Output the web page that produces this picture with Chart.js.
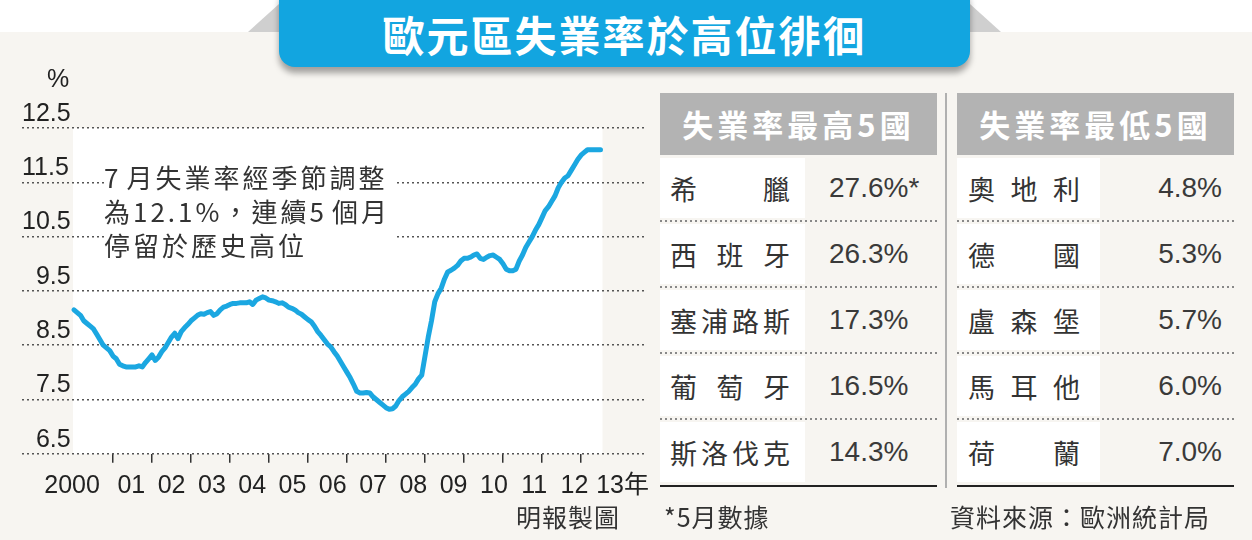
<!DOCTYPE html>
<html lang="zh-Hant">
<head>
<meta charset="UTF-8">
<title>歐元區失業率於高位徘徊</title>
<script src="https://cdn.jsdelivr.net/npm/chart.js"></script>
<style>
  html, body { margin: 0; padding: 0; }
  body {
    width: 1252px; height: 540px; position: relative; overflow: hidden;
    background: #f7f5f1; color: #333;
    font-family: "Noto Sans CJK TC", sans-serif;
  }
  #topStrip { position: absolute; left: 0; top: 0; width: 1252px; height: 32px; background: #fff; }
  .fold { position: absolute; top: 4px; width: 0; height: 0; border-bottom: 28px solid #cfcfcf; }
  #foldL { left: 248px; border-left: 31px solid transparent; }
  #foldR { left: 970px; border-right: 31px solid transparent; }
  #banner {
    position: absolute; left: 279px; top: -16px; width: 691px; height: 67px; padding-top: 16px;
    background: #12a5e0; border-radius: 16px; box-shadow: 0 6px 6px rgba(0,0,0,0.35);
    color: #fff; font-weight: 700; font-size: 42px; letter-spacing: 2px;
    line-height: 67px; text-align: center;
  }
  #chartBox { position: absolute; left: 0; top: 0; width: 660px; height: 540px; }
  #pct { position: absolute; left: 47px; top: 64px; font: 25px "Liberation Sans", sans-serif; color: #222; }
  #note {
    position: absolute; left: 104px; top: 160px; width: 290px; height: 102px;
    background: #fff; font-size: 26px; line-height: 34px; letter-spacing: 3px; color: #333;
  }
  #note .gap { margin-left: 5px; }
  .tbl { position: absolute; top: 93px; width: 277px; }
  #tblHigh { left: 660px; }
  #tblLow { left: 957px; }
  .hd {
    height: 62px; background: #b3b3b3; color: #fff; font-weight: 700;
    font-size: 31px; letter-spacing: 4px; line-height: 62px; text-align: center;
  }
  .row { position: relative; height: 66px; }
  .row .name {
    position: absolute; left: 0; top: 3px; height: 60px; width: 145px; box-sizing: border-box;
    background: #fff; display: flex; justify-content: space-between; align-items: center;
    padding: 0 15px 0 10px; font-size: 27px; color: #333;
  }
  #tblLow .row .name { width: 143px; padding: 0 20px 0 11px; }
  .row .val {
    position: absolute; top: 0;
    font: 28px "Liberation Sans", sans-serif; line-height: 66px; color: #3a3a3a;
  }
  #tblHigh .val { left: 169px; }
  #tblLow .val { right: 12px; }
  .dots {
    position: absolute; left: 0; bottom: -1px; width: 100%; height: 2px;
    background: repeating-linear-gradient(to right, #888 0 2px, transparent 2px 5px);
  }
  .tbl .rule { height: 2px; background: #222; }
  #vsep { position: absolute; left: 945px; top: 93px; width: 2px; height: 395px; background: #b0b0b0; }
  .foot { position: absolute; top: 500px; font-size: 25px; line-height: 32px; letter-spacing: 1px; color: #333; }
</style>
</head>
<body>
  <div id="topStrip"></div>
  <div class="fold" id="foldL"></div>
  <div class="fold" id="foldR"></div>
  <div id="banner">歐元區失業率於高位徘徊</div>

  <div id="chartBox"><canvas id="rateChart" width="660" height="540"></canvas></div>
  <div id="pct">%</div>
  <div id="note">7<span class="gap"></span>月失業率經季節調整<br>為12.1%，連續5<span class="gap"></span>個月<br>停留於歷史高位</div>

  <div class="tbl" id="tblHigh"></div>
  <div id="vsep"></div>
  <div class="tbl" id="tblLow"></div>

  <div class="foot" style="left:516px;">明報製圖</div>
  <div class="foot" style="left:664px;">*5月數據</div>
  <div class="foot" style="left:950px;">資料來源：歐洲統計局</div>

<script>
// 歐元區失業率 (%), 2000年1月 - 2013年7月, 每月
var startYear = 2000;
var yearLabels = ['2000', '01', '02', '03', '04', '05', '06', '07', '08', '09', '10', '11', '12', '13年'];
var yTickValues = [6.5, 7.5, 8.5, 9.5, 10.5, 11.5, 12.5];
var unemploymentRate = [
  9.15, 9.1, 9.05, 8.95, 8.9, 8.85, 8.8, 8.7, 8.6, 8.5, 8.45, 8.4,          // 2000
  8.3, 8.25, 8.15, 8.12, 8.1, 8.1, 8.1, 8.1, 8.12, 8.1, 8.18, 8.25,         // 2001
  8.32, 8.22, 8.28, 8.38, 8.45, 8.55, 8.65, 8.72, 8.62, 8.75, 8.82, 8.88,   // 2002
  8.95, 9.0, 9.05, 9.08, 9.07, 9.1, 9.12, 9.05, 9.08, 9.15, 9.2, 9.22,      // 2003
  9.25, 9.27, 9.27, 9.28, 9.28, 9.28, 9.3, 9.25, 9.33, 9.36, 9.39, 9.37,    // 2004
  9.33, 9.32, 9.3, 9.27, 9.28, 9.25, 9.2, 9.18, 9.15, 9.1, 9.07, 9.02,      // 2005
  8.97, 8.93, 8.85, 8.75, 8.68, 8.6, 8.52, 8.47, 8.38, 8.3, 8.2, 8.1,       // 2006
  8.0, 7.9, 7.78, 7.65, 7.62, 7.62, 7.63, 7.62, 7.55, 7.5, 7.45, 7.4,       // 2007
  7.35, 7.32, 7.33, 7.38, 7.48, 7.55, 7.6, 7.65, 7.72, 7.78, 7.88, 7.95,    // 2008
  8.3, 8.65, 8.95, 9.3, 9.45, 9.55, 9.72, 9.85, 9.88, 9.92, 9.97, 10.05,    // 2009
  10.1, 10.1, 10.12, 10.16, 10.18, 10.1, 10.08, 10.12, 10.15, 10.16, 10.12, 10.08, // 2010
  10.0, 9.9, 9.87, 9.87, 9.9, 10.05, 10.16, 10.3, 10.4, 10.5, 10.62, 10.72, // 2011
  10.85, 10.98, 11.05, 11.15, 11.25, 11.4, 11.5, 11.58, 11.62, 11.72, 11.82, 11.92, // 2012
  12.0, 12.05, 12.1, 12.1, 12.1, 12.1, 12.1                                 // 2013
];

var highNames = ['希臘', '西班牙', '塞浦路斯', '葡萄牙', '斯洛伐克'];
var highValues = ['27.6%*', '26.3%', '17.3%', '16.5%', '14.3%'];
var lowNames = ['奧地利', '德國', '盧森堡', '馬耳他', '荷蘭'];
var lowValues = ['4.8%', '5.3%', '5.7%', '6.0%', '7.0%'];

function buildTable(id, title, names, values) {
  var box = document.getElementById(id);
  var html = '<div class="hd">' + title + '</div>';
  names.forEach(function (n, i) {
    var chars = n.split('').map(function (c) { return '<span>' + c + '</span>'; }).join('');
    html += '<div class="row"><div class="name">' + chars + '</div>' +
            '<div class="val">' + values[i] + '</div>' +
            (i < names.length - 1 ? '<div class="dots"></div>' : '') + '</div>';
  });
  html += '<div class="rule"></div>';
  box.innerHTML = html;
}
buildTable('tblHigh', '失業率最高5國', highNames, highValues);
buildTable('tblLow', '失業率最低5國', lowNames, lowValues);

var points = unemploymentRate.map(function (v, i) { return { x: startYear + i / 12, y: v }; });

// 白色繪圖底
var plotBg = {
  id: 'plotBg',
  beforeDraw: function (chart) {
    var c = chart.ctx, a = chart.chartArea, x = chart.scales.x;
    var x0 = x.getPixelForValue(startYear) - 1;
    var x1 = x.getPixelForValue(startYear + (unemploymentRate.length - 1) / 12) + 2;
    c.save();
    c.fillStyle = '#ffffff';
    c.fillRect(x0, a.top, x1 - x0, a.bottom - a.top);
    c.restore();
  }
};

var xMin = 1998.667, xMax = 2014.641;
var numFont = "'Liberation Sans', 'Noto Sans CJK TC', sans-serif";

var ctx = document.getElementById('rateChart').getContext('2d');
var rateChart = new Chart(ctx, {
  type: 'line',
  data: {
    datasets: [{
      data: points,
      borderColor: '#1ba7e1',
      borderWidth: 5,
      pointRadius: 0,
      tension: 0,
      borderJoinStyle: 'round',
      borderCapStyle: 'round'
    }]
  },
  options: {
    responsive: false,
    animation: false,
    devicePixelRatio: 1,
    layout: { padding: { top: 128, left: 22, right: 15, bottom: 40 } },
    plugins: { legend: { display: false }, tooltip: { enabled: false } },
    scales: {
      x: {
        type: 'linear', min: xMin, max: xMax, position: 'bottom', weight: 0,
        afterBuildTicks: function (axis) {
          axis.ticks = yearLabels.slice(1).map(function (l, i) { return { value: startYear + i + 1 }; });
        },
        grid: { drawOnChartArea: false, drawTicks: true, tickLength: 9, color: '#333', lineWidth: 1.5 },
        border: { display: false },
        ticks: { callback: function () { return ''; }, font: { size: 1 }, padding: 0, autoSkip: false, maxRotation: 0 }
      },
      xLabels: {
        type: 'linear', min: xMin, max: xMax, position: 'bottom', weight: 1,
        // 年份標籤排成一行文字，間距比刻度略寬
        afterBuildTicks: function (axis) {
          axis.ticks = yearLabels.map(function (l, i) {
            var v = startYear + 1.47 + (i - 1) * 1.033;
            if (i === 0) v = startYear - 0.05;
            if (i === yearLabels.length - 1) v += 0.2;
            return { value: v };
          });
        },
        grid: { display: false },
        border: { display: false },
        ticks: {
          autoSkip: false, maxRotation: 0, padding: -1, color: '#222',
          font: { family: numFont, size: 25 },
          callback: function (v, i) { return yearLabels[i]; }
        }
      },
      y: {
        min: 6.5, max: 12.5,
        afterBuildTicks: function (axis) {
          axis.ticks = yTickValues.map(function (v) { return { value: v }; });
        },
        grid: { color: '#555', lineWidth: 1.5, drawTicks: false },
        border: { display: false, dash: [2, 3] },
        ticks: {
          mirror: true, padding: 0, labelOffset: -14, color: '#222',
          font: { family: numFont, size: 25 },
          callback: function (v) { return (v < 10 ? '\u2007' : '') + v.toFixed(1); }
        }
      }
    }
  },
  plugins: [plotBg]
});
</script>
</body>
</html>
